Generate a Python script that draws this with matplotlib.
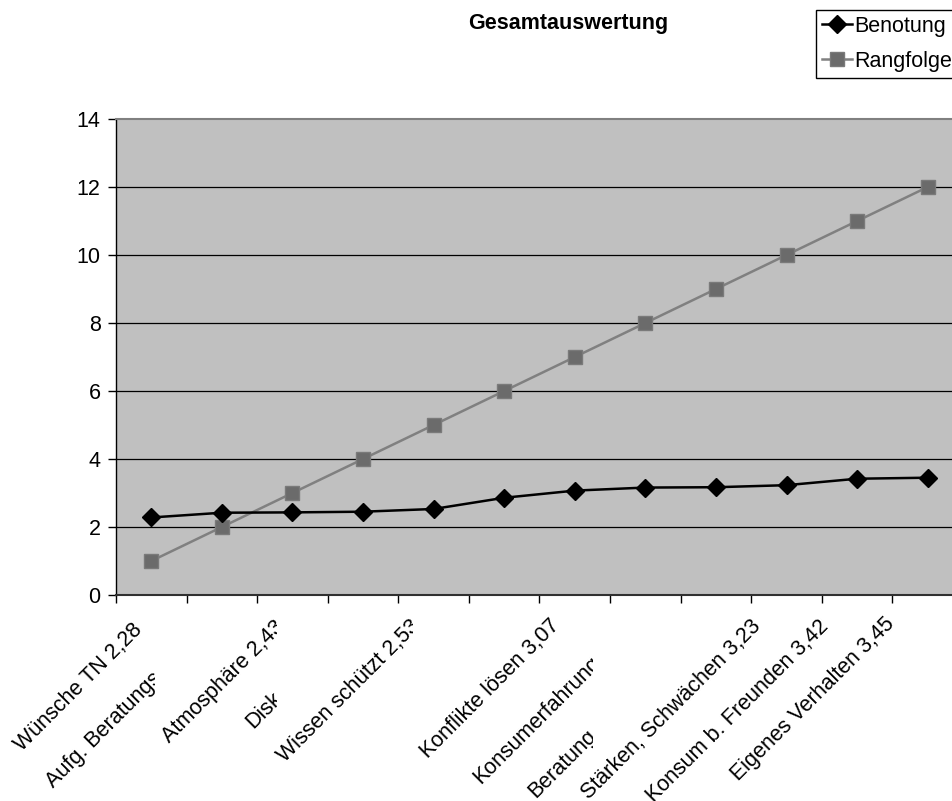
import matplotlib
matplotlib.use("Agg")
import matplotlib.pyplot as plt
from matplotlib.transforms import Bbox
import numpy as np

plt.rcParams['font.family'] = ['Liberation Sans', 'DejaVu Sans']

# --- data -------------------------------------------------------------
categories = [
    "Wünsche TN 2,28",
    "Aufg. Beratungs",
    "Atmosphäre 2,43",
    "Disk",
    "Wissen schützt 2,53",
    "",
    "Konflikte lösen 3,07",
    "Konsumerfahrung",
    "Beratung",
    "Stärken, Schwächen 3,23",
    "Konsum b. Freunden 3,42",
    "Eigenes Verhalten 3,45",
]
benotung = [2.28, 2.42, 2.43, 2.45, 2.53, 2.86, 3.07, 3.16, 3.17, 3.23, 3.42, 3.45]
rangfolge = [1, 2, 3, 4, 5, 6, 7, 8, 9, 10, 11, 12]
y_ticks = [0, 2, 4, 6, 8, 10, 12, 14]
series_names = ["Benotung", "Rangfolge"]
title = "Gesamtauswertung"

# --- layout (pixel units of the 953x801 canvas, y measured from the top) ---
W, H = 953, 801
# anchor point, alignment of the anchor, right clipping edge of the label
label_layout = [
    ((143, 631), "right", None),
    ((53, 788), "left", 155),
    ((169, 743), "left", 277),
    ((253, 729), "left", 277),
    ((285, 763), "left", 413),
    ((418, 690), "left", 413),
    ((560, 626), "right", None),
    ((481, 784), "left", 593),
    ((536, 798), "left", 593),
    ((762, 627), "right", None),
    ((829, 627), "right", None),
    ((895, 625), "right", None),
]

fig = plt.figure(figsize=(W / 100, H / 100), dpi=100)
fig.patch.set_facecolor("white")

left, right, top, bottom = 116, 963, 119, 595
ax = fig.add_axes([left / W, 1 - bottom / H, (right - left) / W, (bottom - top) / H])
ax.set_facecolor("#C0C0C0")

x = np.arange(len(categories))
l1, = ax.plot(x, benotung, color="black", lw=1.8, marker="D", ms=9.5,
              mfc="black", mec="black", zorder=4, clip_on=False)
l2, = ax.plot(x, rangfolge, color="#808080", lw=1.8, marker="s", ms=10,
              mfc="#6b6b6b", mec="#7a7a7a", zorder=3, clip_on=False)

ax.set_xlim(-0.5, len(categories) - 0.5)
ax.set_ylim(0, 14)
ax.set_yticks(y_ticks)
ax.set_xticks(np.arange(-0.5, len(categories), 1.0))
ax.set_xticklabels([])
ax.tick_params(axis="x", direction="out", length=6, width=1, color="black")
ax.tick_params(axis="y", direction="out", length=6, width=1, color="black",
               labelsize=15.5, pad=5)

ax.set_axisbelow(True)
for yv in y_ticks[1:-1]:
    ax.axhline(yv, color="black", lw=0.9, zorder=1)

ax.spines["left"].set_color("black")
ax.spines["left"].set_linewidth(1.0)
ax.spines["bottom"].set_color("#303030")
ax.spines["bottom"].set_linewidth(1.5)
ax.spines["top"].set_color("#808080")
ax.spines["top"].set_linewidth(1.5)
ax.spines["right"].set_color("#808080")

# rotated category labels
for text, (pos, align, clip_x) in zip(categories, label_layout):
    if not text:
        continue
    px, py = pos
    t = fig.text(px / W, 1 - py / H, text, rotation=45, rotation_mode="anchor",
                 ha=align, va="baseline", fontsize=15.5, color="black")
    if clip_x is not None:
        t.set_clip_box(Bbox.from_extents(0, 0, clip_x, H))
        t.set_clip_on(True)

fig.text(568 / W, 1 - 24 / H, title, ha="center", va="center",
         fontsize=15.5, fontweight="bold")

leg = fig.legend([l1, l2], series_names, loc="upper left",
                 bbox_to_anchor=(816 / W, 1 - 10 / H), bbox_transform=fig.transFigure,
                 fontsize=15.5, frameon=True, fancybox=False, framealpha=1,
                 edgecolor="black", borderpad=0.28, borderaxespad=0,
                 handlelength=1.4, handletextpad=0.12, labelspacing=0.64,
                 markerscale=1.0)
leg.get_frame().set_linewidth(1.0)

fig.savefig("out.png", dpi=100, facecolor="white")
